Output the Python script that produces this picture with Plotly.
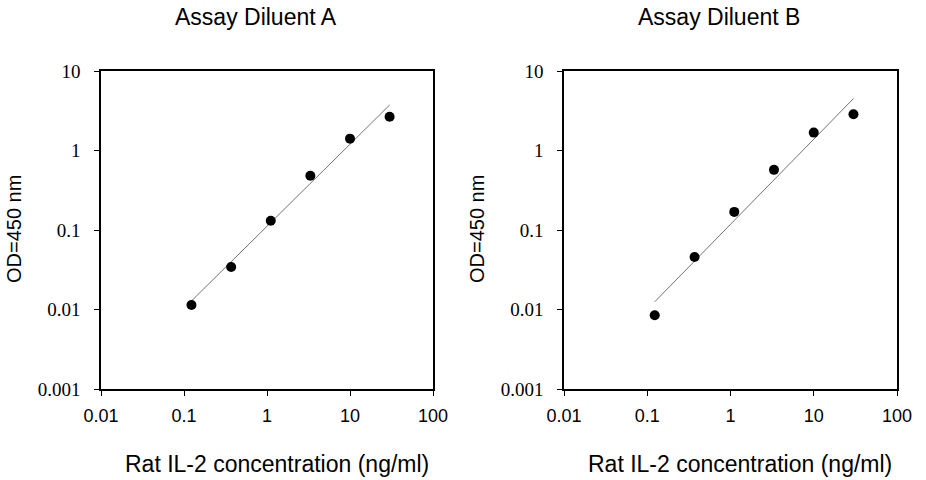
import plotly.graph_objects as go

# standard concentrations (ng/ml) and OD readings
conc = [0.123, 0.37, 1.11, 3.33, 10, 30]
od_a = [0.0114, 0.0343, 0.131, 0.482, 1.41, 2.66]
od_b = [0.00845, 0.0457, 0.169, 0.571, 1.68, 2.86]

# end points of the drawn fit lines
fit_x = [0.123, 30]
fit_a = [0.0128, 3.73]
fit_b = [0.0125, 4.5]

x_ticks = [0.01, 0.1, 1, 10, 100]
x_labels = ['0.01', '0.1', '1', '10', '100']
y_ticks = [0.001, 0.01, 0.1, 1, 10]
y_labels = ['0.001', '0.01', '0.1', '1', '10']

titles = ['Assay Diluent A', 'Assay Diluent B']
x_title = 'Rat IL-2 concentration (ng/ml)'
y_title = 'OD=450 nm'

W, H = 926, 480
sans = 'Liberation Sans, Arial, sans-serif'
serif = 'Liberation Serif, Times New Roman, serif'

fig = go.Figure()
panels = [('x', 'y', od_a, fit_a), ('x2', 'y2', od_b, fit_b)]
for xa, ya, od, fit in panels:
    fig.add_trace(go.Scatter(x=fit_x, y=fit, mode='lines', xaxis=xa, yaxis=ya,
                             line=dict(color='rgb(115,115,115)', width=1),
                             hoverinfo='none'))
    fig.add_trace(go.Scatter(x=conc, y=od, mode='markers', xaxis=xa, yaxis=ya,
                             marker=dict(color='black', size=10)))

xaxis = dict(type='log', range=[-2, 2], tickvals=x_ticks, ticktext=x_labels,
             ticks='outside', ticklen=5, tickwidth=1, tickcolor='black',
             showline=True, linecolor='black', linewidth=1.5, mirror=True,
             showgrid=False, zeroline=False, automargin=False,
             ticklabelstandoff=5,
             tickfont=dict(family=sans, size=18, color='black'))
yaxis = dict(type='log', range=[-3, 1], tickvals=y_ticks, ticktext=y_labels,
             ticks='outside', ticklen=5, tickwidth=1, tickcolor='black',
             showline=True, linecolor='black', linewidth=1.5, mirror=True,
             showgrid=False, zeroline=False, automargin=False,
             ticklabelstandoff=10,
             tickfont=dict(family=serif, size=19, color='black'))

left = [101 / W, 433 / W]
right = [564 / W, 897 / W]
ydom = [1 - 389 / H, 1 - 71 / H]


def ann(text, px, py, size, angle=0):
    return dict(text=text, x=px / W, y=1 - py / H, xref='paper', yref='paper',
                xanchor='center', yanchor='middle', textangle=angle, showarrow=False,
                font=dict(family=sans, size=size, color='black'))


annotations = []
for tx, xx, yx, t in [(256, 277, 14, titles[0]), (719, 740, 477, titles[1])]:
    annotations.append(ann(t, tx, 17, 23))
    annotations.append(ann(x_title, xx, 464, 23))
    annotations.append(ann(y_title, yx, 229, 20, angle=-90))

fig.update_layout(
    width=W, height=H,
    margin=dict(l=0, r=0, t=0, b=0),
    paper_bgcolor='white', plot_bgcolor='white',
    showlegend=False,
    xaxis=dict(xaxis, domain=left, anchor='y'),
    yaxis=dict(yaxis, domain=ydom, anchor='x'),
    xaxis2=dict(xaxis, domain=right, anchor='y2'),
    yaxis2=dict(yaxis, domain=ydom, anchor='x2'),
    annotations=annotations,
)

# drop the page's default body margin so the figure sits at the top-left corner
fig.write_html('out.html', config={'displayModeBar': False},
               post_script="document.body.style.margin='0';")
